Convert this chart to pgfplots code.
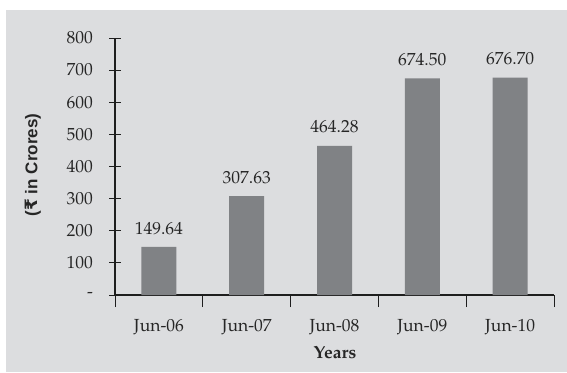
\documentclass[border=0pt]{standalone}
\usepackage{fontspec}
\setmainfont{TeX Gyre Pagella}
\newfontfamily\labelsans{Liberation Sans}
\newfontfamily\rupeefont{DejaVu Sans}
\usepackage{pgfplots}
\pgfplotsset{compat=1.18}
\definecolor{bgc}{RGB}{220,221,223}
\definecolor{barc}{RGB}{128,130,133}
\definecolor{axc}{RGB}{30,30,30}
\begin{document}
\begin{tikzpicture}[x=1bp,y=1bp]
\fill[white] (0,0) rectangle (567,372);
\fill[bgc] (6,0) rectangle (567,362);
\begin{axis}[
  at={(115bp,77bp)}, anchor=south west,
  scale only axis, width=439bp, height=257bp,
  xmin=0, xmax=5, ymin=0, ymax=800,
  axis lines=left, axis line style={-, line width=1.5bp, color=axc},
  every tick/.style={color=axc, line width=1bp},
  tick align=center,
  major tick length=12bp, minor tick length=12bp,
  xtick={0.5,1.5,2.5,3.5,4.5},
  xticklabels={Jun-06,Jun-07,Jun-08,Jun-09,Jun-10},
  x tick style={draw=none},
  minor xtick={0,1,2,3,4,5},
  minor x tick style={draw=axc, line width=1bp},
  ytick={0,100,...,800},
  yticklabels={-,100,200,300,400,500,600,700,800},
  /pgf/number format/assume math mode=true,
  ticklabel style={font=\fontsize{17.5bp}{20bp}\selectfont, text=black!85},
  yticklabel style={xshift=-12.5bp},
  xticklabel style={yshift=-9bp},
  ybar, bar width=35bp,
  nodes near coords,
  nodes near coords style={font=\fontsize{17.5bp}{20bp}\selectfont, text=black!85, anchor=south, yshift=9bp,
    /pgf/number format/.cd, fixed, fixed zerofill, precision=2},
  clip=false,
]
\addplot[fill=barc, draw=none] coordinates {(0.5,149.64) (1.5,307.63) (2.5,464.28) (3.5,674.50) (4.5,676.70)};
\end{axis}
\node[rotate=90, font=\labelsans\bfseries\fontsize{17bp}{20bp}\selectfont, text=black!85] at (33,207) {({\rupeefont\bfseries ₹} in Crores)};
\node[font=\bfseries\fontsize{17.5bp}{20bp}\selectfont, text=black!85] at (335,19) {Years};
\end{tikzpicture}
\end{document}
